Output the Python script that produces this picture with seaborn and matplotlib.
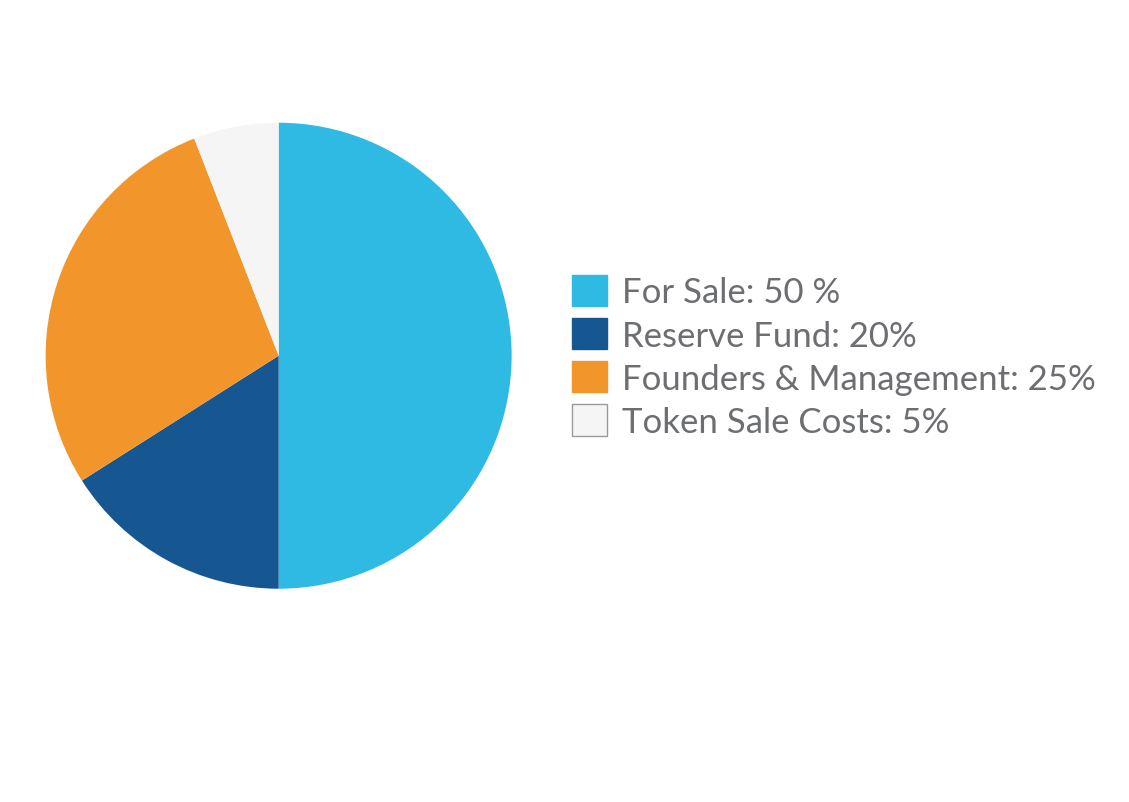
import matplotlib.pyplot as plt
import seaborn as sns
from matplotlib.patches import Patch

# token allocation (slice sizes, labels as printed)
labels = ['For Sale: 50 %', 'Reserve Fund: 20%',
          'Founders & Management: 25%', 'Token Sale Costs: 5%']
shares = [50.0, 16.0, 28.1, 5.9]
colors = ['#2ebae3', '#175791', '#f2952b', '#f5f5f5']

sns.set_theme(style='white')
plt.rcParams['font.family'] = ['Lato', 'DejaVu Sans']

fig = plt.figure(figsize=(11.29, 8.03), dpi=100)
ax = fig.add_axes([0.0404, 0.2656, 0.4128, 0.5803])
ax.pie(shares, colors=colors, startangle=90, counterclock=False,
       wedgeprops=dict(linewidth=0))
ax.set_xlim(-1, 1)
ax.set_ylim(-1, 1)
ax.set_aspect('equal')
ax.axis('off')

handles = [Patch(facecolor=c, edgecolor='#9a9a9a' if c == '#f5f5f5' else c,
                 linewidth=1) for c in colors]
fig.legend(handles, labels, loc='upper left',
           bbox_to_anchor=(572 / 1129, 1 - 276 / 803),
           frameon=False, fontsize=25, labelcolor='#6d6e71',
           handlelength=1.0, handleheight=1.0, handletextpad=0.45,
           labelspacing=0.28, borderpad=0, borderaxespad=0)

fig.savefig('out.png', dpi=100)
